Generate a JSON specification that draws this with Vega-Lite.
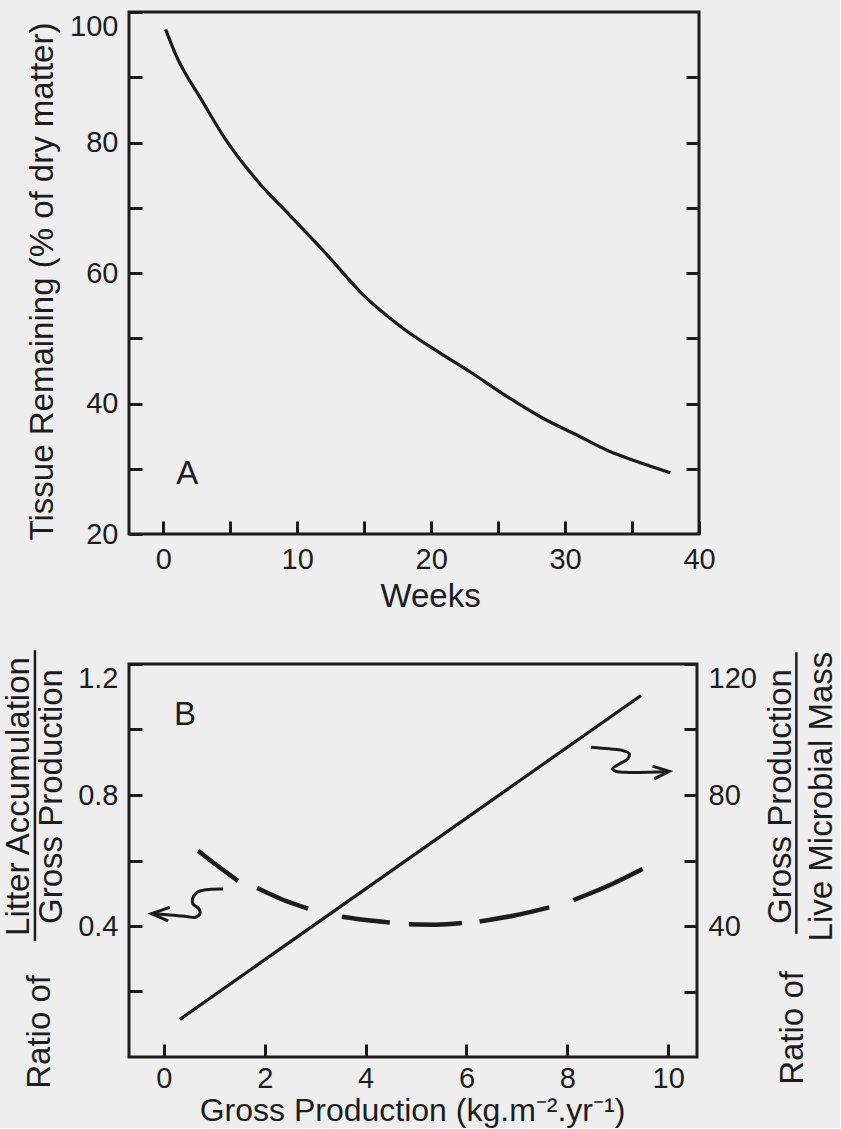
{
  "$schema": "https://vega.github.io/schema/vega-lite/v6.json",
  "background": "#eeeeee",
  "padding": {"left": 0, "top": 9, "right": 0, "bottom": 0},
  "autosize": {"type": "pad"},
  "spacing": 32,
  "config": {
    "font": "Liberation Sans",
    "view": {"stroke": "#1c1c1c", "strokeWidth": 3},
    "axis": {
      "domain": false, "grid": false, "ticks": true,
      "tickColor": "#1c1c1c", "tickWidth": 3, "tickSize": -13,
      "labelFont": "Liberation Sans", "labelFontSize": 29, "labelColor": "#1c1c1c", "labelPadding": 24,
      "labelOverlap": false, "labelBound": false, "labelFlush": false,
      "titleFont": "Liberation Sans", "titleFontSize": 33, "titleFontWeight": "normal", "titleColor": "#1c1c1c"
    }
  },
  "datasets": {
    "decay": [
      {"weeks": 0.17, "remaining": 97.35},
      {"weeks": 0.92, "remaining": 93.52},
      {"weeks": 2.91, "remaining": 86.36},
      {"weeks": 4.40, "remaining": 81.26},
      {"weeks": 7.14, "remaining": 73.84},
      {"weeks": 9.38, "remaining": 69.00},
      {"weeks": 11.87, "remaining": 63.60},
      {"weeks": 15.10, "remaining": 56.30},
      {"weeks": 17.84, "remaining": 51.62},
      {"weeks": 20.82, "remaining": 47.54},
      {"weeks": 22.81, "remaining": 44.98},
      {"weeks": 25.80, "remaining": 40.89},
      {"weeks": 28.28, "remaining": 37.82},
      {"weeks": 30.77, "remaining": 35.28},
      {"weeks": 33.26, "remaining": 32.72},
      {"weeks": 35.25, "remaining": 31.19},
      {"weeks": 37.86, "remaining": 29.39}
    ],
    "litter": [
      {"dash": 1, "gp": 0.68, "ratio": 0.630},
      {"dash": 1, "gp": 1.07, "ratio": 0.583},
      {"dash": 1, "gp": 1.47, "ratio": 0.538},
      {"dash": 2, "gp": 1.85, "ratio": 0.516},
      {"dash": 2, "gp": 2.35, "ratio": 0.481},
      {"dash": 2, "gp": 2.86, "ratio": 0.453},
      {"dash": 3, "gp": 3.53, "ratio": 0.428},
      {"dash": 3, "gp": 4.00, "ratio": 0.418},
      {"dash": 3, "gp": 4.48, "ratio": 0.411},
      {"dash": 4, "gp": 4.86, "ratio": 0.405},
      {"dash": 4, "gp": 5.40, "ratio": 0.404},
      {"dash": 4, "gp": 5.91, "ratio": 0.409},
      {"dash": 5, "gp": 6.26, "ratio": 0.414},
      {"dash": 5, "gp": 6.95, "ratio": 0.432},
      {"dash": 5, "gp": 7.64, "ratio": 0.457},
      {"dash": 6, "gp": 8.12, "ratio": 0.479},
      {"dash": 6, "gp": 8.80, "ratio": 0.522},
      {"dash": 6, "gp": 9.49, "ratio": 0.574}
    ],
    "microbial": [
      {"gp": 0.32, "gp_ratio": 11.5},
      {"gp": 9.46, "gp_ratio": 110.4}
    ],
    "arrowTails": [
      {"arrow": "left", "ord": 1, "gp": 1.174, "ratio": 0.513},
      {"arrow": "left", "ord": 2, "gp": 0.846, "ratio": 0.511},
      {"arrow": "left", "ord": 3, "gp": 0.648, "ratio": 0.502},
      {"arrow": "left", "ord": 4, "gp": 0.568, "ratio": 0.482},
      {"arrow": "left", "ord": 5, "gp": 0.580, "ratio": 0.467},
      {"arrow": "left", "ord": 6, "gp": 0.699, "ratio": 0.452},
      {"arrow": "left", "ord": 7, "gp": 0.713, "ratio": 0.436},
      {"arrow": "left", "ord": 8, "gp": 0.614, "ratio": 0.426},
      {"arrow": "left", "ord": 9, "gp": 0.450, "ratio": 0.429},
      {"arrow": "left", "ord": 10, "gp": -0.244, "ratio": 0.438},
      {"arrow": "right", "ord": 1, "gp": 8.469, "ratio": 0.946},
      {"arrow": "right", "ord": 2, "gp": 8.832, "ratio": 0.941},
      {"arrow": "right", "ord": 3, "gp": 9.095, "ratio": 0.936},
      {"arrow": "right", "ord": 4, "gp": 9.228, "ratio": 0.926},
      {"arrow": "right", "ord": 5, "gp": 9.194, "ratio": 0.910},
      {"arrow": "right", "ord": 6, "gp": 9.030, "ratio": 0.895},
      {"arrow": "right", "ord": 7, "gp": 8.897, "ratio": 0.880},
      {"arrow": "right", "ord": 8, "gp": 8.964, "ratio": 0.872},
      {"arrow": "right", "ord": 9, "gp": 9.228, "ratio": 0.869},
      {"arrow": "right", "ord": 10, "gp": 10.02, "ratio": 0.872}
    ],
    "arrowHeads": [
      {"arrow": "left", "ord": 1, "gp": 0.119, "ratio": 0.457},
      {"arrow": "left", "ord": 2, "gp": -0.244, "ratio": 0.438},
      {"arrow": "left", "ord": 3, "gp": 0.085, "ratio": 0.416},
      {"arrow": "right", "ord": 1, "gp": 9.689, "ratio": 0.888},
      {"arrow": "right", "ord": 2, "gp": 10.02, "ratio": 0.872},
      {"arrow": "right", "ord": 3, "gp": 9.723, "ratio": 0.849}
    ],
    "fractionBars": [
      {"side": "left", "gp": -2.554, "ratio": 0.355, "ratio_end": 1.242},
      {"side": "right", "gp": 12.54, "ratio": 0.376, "ratio_end": 1.236}
    ],
    "ratioOf": [
      {"label": "Ratio of", "gp": -2.455, "ratio": 0.0765},
      {"label": "Ratio of", "gp": 12.475, "ratio": 0.0887}
    ]
  },
  "vconcat": [
    {
      "width": 570,
      "height": 522,
      "layer": [
        {
          "layer": [
            {
              "data": {"name": "decay"},
              "mark": {"type": "line", "interpolate": "monotone", "color": "#1c1c1c", "strokeWidth": 3.2},
              "encoding": {
                "x": {
                  "field": "weeks", "type": "quantitative",
                  "scale": {"domain": [-2.56, 40], "nice": false, "zero": false},
                  "axis": {
                    "title": "Weeks",
                    "values": [0, 5, 10, 15, 20, 25, 30, 35, 40],
                    "labelExpr": "datum.value % 10 == 0 ? datum.label : ''",
                    "titleX": 301, "titleY": 62, "titleBaseline": "middle", "titleAlign": "center"
                  }
                },
                "y": {
                  "field": "remaining", "type": "quantitative",
                  "scale": {"domain": [20, 100], "nice": false, "zero": false},
                  "axis": {
                    "title": "Tissue Remaining (% of dry matter)",
                    "values": [20, 30, 40, 50, 60, 70, 80, 90, 100],
                    "labelExpr": "datum.value % 20 == 0 ? datum.label : ''",
                    "labelBaseline": {"condition": {"test": "datum.value == 100", "value": "top"}, "value": "middle"},
                    "titleAngle": 270, "titleX": -87, "titleY": 269, "titleBaseline": "middle", "titleAlign": "center"
                  }
                }
              }
            },
            {
              "data": {"values": [{"panel": "A", "weeks": 1.79, "remaining": 29.25}]},
              "mark": {"type": "text", "fontSize": 33, "color": "#1c1c1c", "align": "center", "baseline": "middle"},
              "encoding": {
                "x": {"field": "weeks", "type": "quantitative"},
                "y": {"field": "remaining", "type": "quantitative"},
                "text": {"field": "panel"}
              }
            }
          ]
        },
        {
          "data": {"name": "decay"},
          "mark": {"type": "line", "strokeOpacity": 0},
          "encoding": {
            "x": {"field": "weeks", "type": "quantitative"},
            "y": {
              "field": "remaining", "type": "quantitative",
              "scale": {"domain": [20, 100], "nice": false, "zero": false},
              "axis": {"orient": "right", "values": [30, 40, 50, 60, 70, 80, 90], "labels": false, "title": null}
            }
          }
        }
      ],
      "resolve": {"scale": {"y": "independent"}}
    },
    {
      "width": 568,
      "height": 393,
      "layer": [
        {
          "layer": [
            {
              "data": {"name": "litter"},
              "mark": {"type": "line", "interpolate": "monotone", "color": "#1c1c1c", "strokeWidth": 4.5, "strokeCap": "butt"},
              "encoding": {
                "x": {
                  "field": "gp", "type": "quantitative",
                  "scale": {"domain": [-0.69, 10.57], "nice": false, "zero": false},
                  "axis": {
                    "title": "Gross Production (kg.m⁻².yr⁻¹)",
                    "values": [0, 2, 4, 6, 8, 10],
                    "labelPadding": 20,
                    "titleFontSize": 32,
                    "titleX": 283, "titleY": 53, "titleBaseline": "middle", "titleAlign": "center"
                  }
                },
                "y": {
                  "field": "ratio", "type": "quantitative",
                  "scale": {"domain": [0, 1.2], "nice": false, "zero": false},
                  "axis": {
                    "title": ["Litter Accumulation", "Gross Production"],
                    "values": [0.2, 0.4, 0.6, 0.8, 1.0, 1.2],
                    "format": ".1f",
                    "labelExpr": "(datum.value == 0.4 || datum.value == 0.8 || datum.value == 1.2) ? datum.label : ''",
                    "labelBaseline": {"condition": {"test": "datum.value == 1.2", "value": "top"}, "value": "middle"},
                    "titleAngle": 270, "titleX": -111, "titleY": 132, "titleBaseline": "middle", "titleAlign": "center",
                    "titleLineHeight": 33
                  }
                },
                "detail": {"field": "dash", "type": "nominal"}
              }
            },
            {
              "data": {"name": "arrowTails"},
              "mark": {"type": "line", "interpolate": "catmull-rom", "color": "#1c1c1c", "strokeWidth": 3},
              "encoding": {
                "x": {"field": "gp", "type": "quantitative"},
                "y": {"field": "ratio", "type": "quantitative"},
                "detail": {"field": "arrow", "type": "nominal"},
                "order": {"field": "ord", "type": "quantitative"}
              }
            },
            {
              "data": {"name": "arrowHeads"},
              "mark": {"type": "line", "color": "#1c1c1c", "strokeWidth": 3, "strokeJoin": "miter"},
              "encoding": {
                "x": {"field": "gp", "type": "quantitative"},
                "y": {"field": "ratio", "type": "quantitative"},
                "detail": {"field": "arrow", "type": "nominal"},
                "order": {"field": "ord", "type": "quantitative"}
              }
            },
            {
              "data": {"name": "fractionBars"},
              "mark": {"type": "rule", "color": "#1c1c1c", "strokeWidth": 2.5},
              "encoding": {
                "x": {"field": "gp", "type": "quantitative"},
                "y": {"field": "ratio", "type": "quantitative"},
                "y2": {"field": "ratio_end"}
              }
            },
            {
              "data": {"name": "ratioOf"},
              "mark": {"type": "text", "fontSize": 33, "color": "#1c1c1c", "align": "center", "baseline": "middle", "angle": 270},
              "encoding": {
                "x": {"field": "gp", "type": "quantitative"},
                "y": {"field": "ratio", "type": "quantitative"},
                "text": {"field": "label"}
              }
            },
            {
              "data": {"values": [{"panel": "B", "gp": 0.42, "ratio": 1.043}]},
              "mark": {"type": "text", "fontSize": 33, "color": "#1c1c1c", "align": "center", "baseline": "middle"},
              "encoding": {
                "x": {"field": "gp", "type": "quantitative"},
                "y": {"field": "ratio", "type": "quantitative"},
                "text": {"field": "panel"}
              }
            }
          ]
        },
        {
          "data": {"name": "microbial"},
          "mark": {"type": "line", "color": "#1c1c1c", "strokeWidth": 3.2},
          "encoding": {
            "x": {"field": "gp", "type": "quantitative"},
            "y": {
              "field": "gp_ratio", "type": "quantitative",
              "scale": {"domain": [0, 120], "nice": false, "zero": false},
              "axis": {
                "orient": "right",
                "title": ["Gross Production", "Live Microbial Mass"],
                "values": [20, 40, 60, 80, 100, 120],
                "labelExpr": "datum.value % 40 == 0 ? datum.label : ''",
                "labelBaseline": {"condition": {"test": "datum.value == 120", "value": "top"}, "value": "middle"},
                "titleAngle": 270, "titleX": 83, "titleY": 132, "titleBaseline": "middle", "titleAlign": "center",
                "titleLineHeight": 41
              }
            }
          }
        }
      ],
      "resolve": {"scale": {"y": "independent"}}
    }
  ]
}
